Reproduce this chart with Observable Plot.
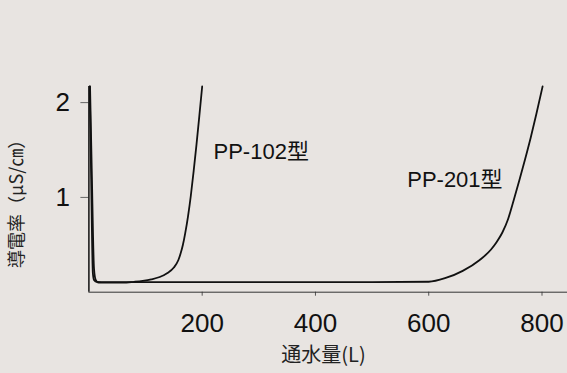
<!DOCTYPE html>
<html>
<head>
<meta charset="utf-8">
<script src="https://cdn.jsdelivr.net/npm/d3@7"></script>
<script src="https://cdn.jsdelivr.net/npm/@observablehq/plot@0.6"></script>
<style>
  html, body { margin: 0; padding: 0; background: #e8e4e1; }
</style>
</head>
<body>
<div id="chart"></div>
<script>
// Data
const pp102X = [2, 5, 9, 12, 17, 25, 40, 60, 80, 95, 110, 125, 138, 150, 158, 162, 166, 170, 175, 180, 185, 190, 195, 200];
const pp102Y = [2.17, 1.3, 0.25, 0.13, 0.1, 0.1, 0.1, 0.1, 0.11, 0.12, 0.135, 0.16, 0.2, 0.26, 0.34, 0.41, 0.5, 0.62, 0.8, 1.02, 1.28, 1.56, 1.86, 2.17];
const pp201X = [1.5, 4, 7, 9, 14, 30, 100, 300, 500, 600, 630, 660, 690, 710, 720, 730, 740, 750, 760, 770, 780, 790, 801];
const pp201Y = [2.17, 1.2, 0.2, 0.13, 0.108, 0.106, 0.106, 0.106, 0.106, 0.11, 0.15, 0.225, 0.34, 0.45, 0.53, 0.63, 0.77, 0.97, 1.18, 1.4, 1.63, 1.88, 2.17];
const seriesNames = ["PP-102型", "PP-201型"];
const labelX = [220, 562];
const labelY = [1.48, 1.18];
const xTicks = [200, 400, 600, 800];
const yTicks = [1, 2];
const xTitle = "通水量(L)";
const yTitle = "導電率（μS/㎝）";

const rows = [
  ...pp102X.map((x, i) => ({series: seriesNames[0], x, y: pp102Y[i]})),
  ...pp201X.map((x, i) => ({series: seriesNames[1], x, y: pp201Y[i]}))
];
const labels = seriesNames.map((name, i) => ({name, x: labelX[i], y: labelY[i]}));

const W = 567, H = 373;
const chart = Plot.plot({
  width: W,
  height: H,
  marginLeft: 88.4,
  marginRight: 0,
  marginTop: 86,
  marginBottom: 81.3,
  style: {background: "#e8e4e1", fontFamily: "'Liberation Sans', 'Noto Sans CJK JP', sans-serif", color: "#111"},
  x: {domain: [0, 845]},
  y: {domain: [0, 2.17]},
  marks: [
    Plot.axisX({ticks: xTicks, tickSize: 4, tickPadding: 17, fontSize: 26, label: null, stroke: "#555", tickFormat: d => String(d)}),
    Plot.axisY({ticks: yTicks, tickSize: 8, tickPadding: 11, fontSize: 26, label: null, stroke: "#666", tickFormat: d => String(d)}),
    Plot.ruleY([0], {stroke: "#333", strokeWidth: 1}),
    Plot.ruleX([0], {stroke: "#111", strokeWidth: 1.5}),
    Plot.line(rows, {x: "x", y: "y", z: "series", stroke: "#111", strokeWidth: 1.8, curve: "monotone-x"}),
    Plot.text(labels, {x: "x", y: "y", text: "name", textAnchor: "start", lineAnchor: "middle", fontSize: 22, fill: "#111"}),
    Plot.text([xTitle], {frameAnchor: "bottom", textAnchor: "middle", dy: 70, dx: -4.7, fontSize: 20, fill: "#222", fontFamily: "'Noto Sans CJK JP', sans-serif"}),
    Plot.text([yTitle], {frameAnchor: "left", textAnchor: "middle", rotate: -90, dx: -71.4, dy: 10, fontSize: 18, fill: "#222", fontFamily: "'Noto Sans CJK JP', sans-serif"})
  ]
});
document.getElementById("chart").appendChild(chart);
</script>
</body>
</html>
